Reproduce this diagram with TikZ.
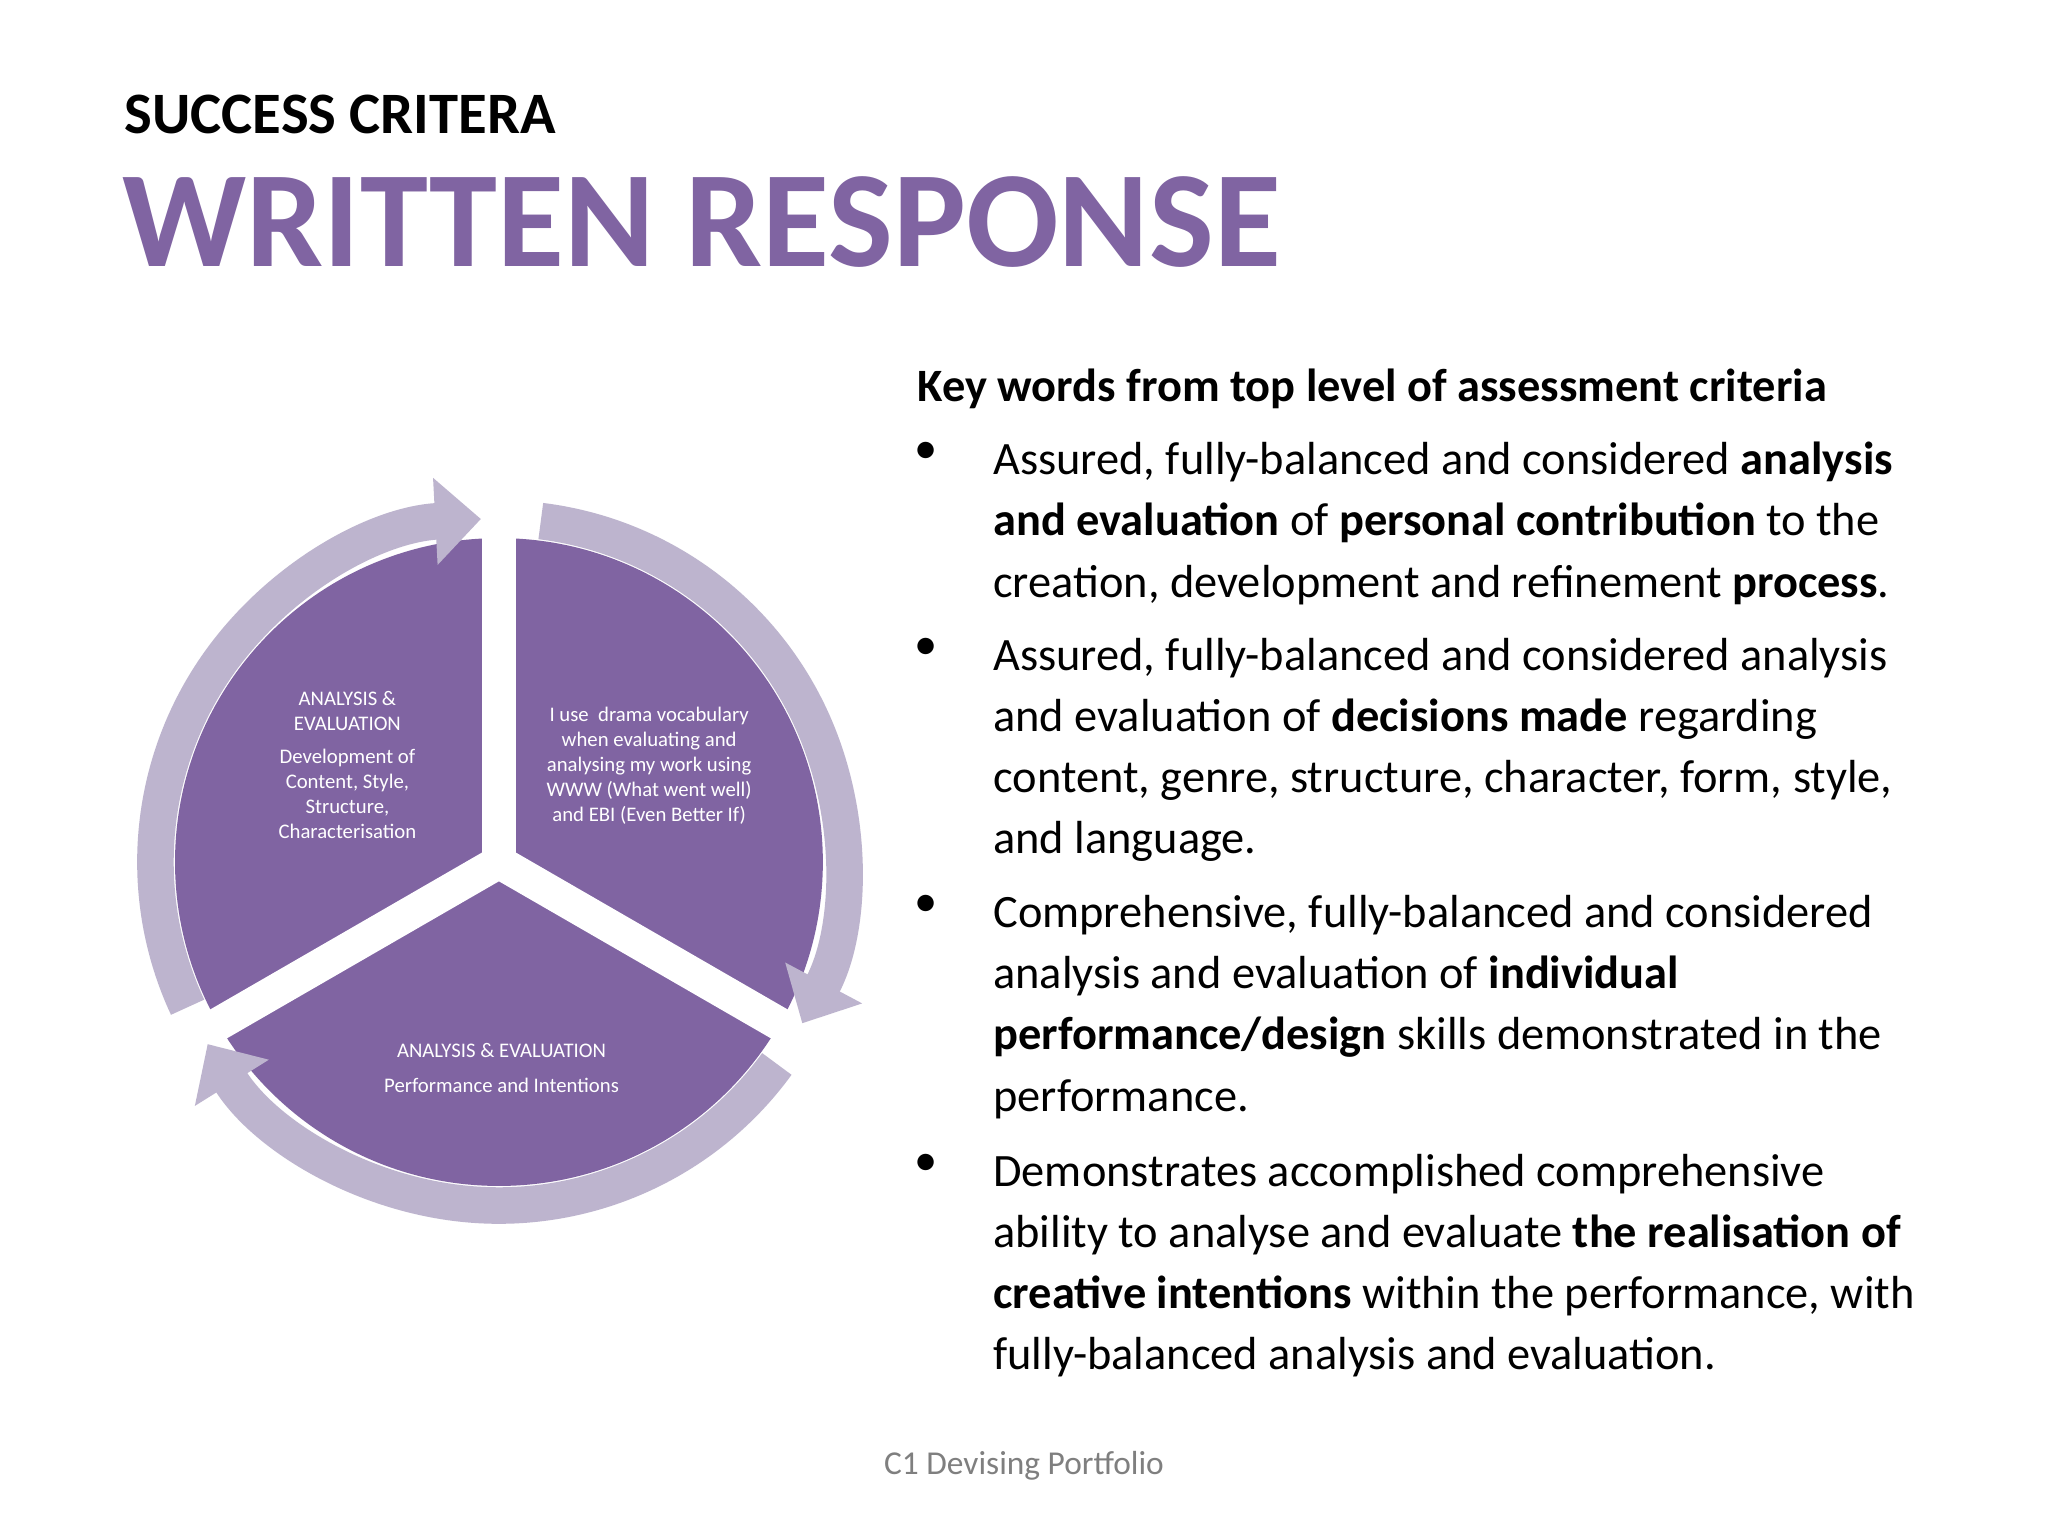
\documentclass[tikz,border=0pt]{standalone}
\usepackage{fontspec}
\setmainfont{Carlito}
\usetikzlibrary{arrows.meta}
\definecolor{purp}{HTML}{8064A2}
\definecolor{ring}{HTML}{BDB4CE}
\definecolor{foot}{HTML}{7F7F7F}
\tikzset{
  ringarrow/.style={ring,line width=10.4pt,-{Triangle[width=24pt,length=13pt]}},
  pietext/.style={white,align=center,font=\fontsize{5.9}{7.1}\selectfont},
  body/.style={anchor=north west,align=left,inner sep=0pt,font=\fontsize{13.2}{17.4}\selectfont},
  bullet/.style={anchor=north west,inner sep=0pt,font=\fontsize{13.2}{17.4}\selectfont}
}
\begin{document}
\begin{tikzpicture}[x=0.01306cm,y=-0.01306cm]
\useasboundingbox (0,0) rectangle (1568,1176);
\fill[white] (0,0) rectangle (1568,1176);
% titles
\node[anchor=base west,inner sep=0pt,font=\bfseries\fontsize{16.7}{20}\selectfont] (t1) at (95,102) {SUCCESS CRITERA};
\node[anchor=base west,inner sep=0pt,text=purp,font=\bfseries\fontsize{39}{44}\selectfont] (t2) at (93,204) {WRITTEN RESPONSE};
% pie
\coordinate (c) at (382,660);
\fill[purp] (c) circle[radius=248];
\foreach \a in {90,210,330}{
  \draw[white,line width=9.5pt] (c) -- ++(\a:-260);
}
% ring arrows (y flipped: use negative angles)
\draw[ringarrow] ([shift={(-205:263)}]c) arc[start angle=-205,end angle=-93,radius=263];
\draw[ringarrow] ([shift={(-83:263)}]c) arc[start angle=-83,end angle=28,radius=263];
\draw[ringarrow] ([shift={(36:263)}]c) arc[start angle=36,end angle=148,radius=263];
% pie texts
\node[pietext] (p1) at (266,544) {ANALYSIS \&\\EVALUATION};
\node[pietext] (p2) at (266,608) {Development of\\Content, Style,\\Structure,\\Characterisation};
\node[pietext] (p3) at (497,586) {I use\ \ drama vocabulary\\when evaluating and\\analysing my work using\\WWW (What went well)\\and EBI (Even Better If)};
\node[pietext] (p4) at (384,804) {ANALYSIS \& EVALUATION};
\node[pietext] (p5) at (384,831) {Performance and Intentions};
% right text
\node[body,font=\bfseries\fontsize{13.2}{17.4}\selectfont] (kw) at (702,282) {Key words from top level of assessment criteria};
\node[bullet] (b1) at (700,338) {•};
\node[body] (x1) at (760,338) {Assured, fully-balanced and considered \textbf{analysis}\\\textbf{and evaluation} of \textbf{personal contribution} to the\\creation, development and refinement \textbf{process}.};
\node[bullet] (b2) at (700,488) {•};
\node[body] (x2) at (760,488) {Assured, fully-balanced and considered analysis\\and evaluation of \textbf{decisions made} regarding\\content, genre, structure, character, form, style,\\and language.};
\node[bullet] (b3) at (700,685) {•};
\node[body] (x3) at (760,685) {Comprehensive, fully-balanced and considered\\analysis and evaluation of \textbf{individual}\\\textbf{performance/design} skills demonstrated in the\\performance.};
\node[bullet] (b4) at (700,883) {•};
\node[body] (x4) at (760,883) {Demonstrates accomplished comprehensive\\ability to analyse and evaluate \textbf{the realisation of}\\\textbf{creative intentions} within the performance, with\\fully-balanced analysis and evaluation.};
\node[text=foot,font=\fontsize{9.5}{11}\selectfont] (ft) at (784,1122) {C1 Devising Portfolio};
\end{tikzpicture}
\end{document}
